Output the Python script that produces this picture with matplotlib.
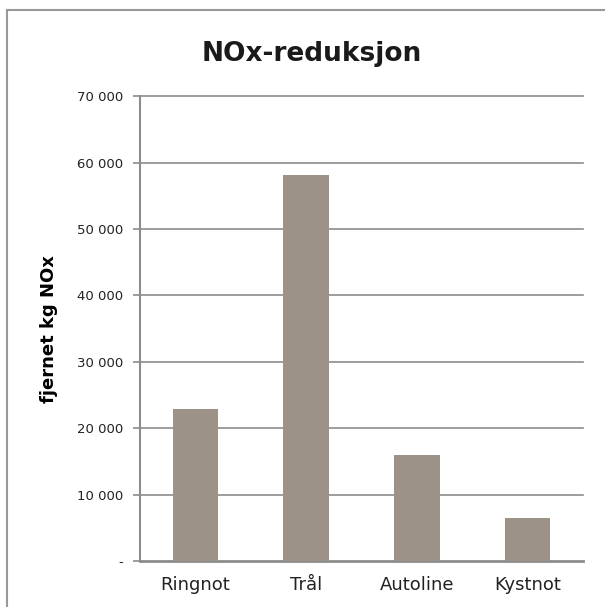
import numpy as np
import matplotlib.pyplot as plt
from matplotlib.lines import Line2D
from matplotlib.ticker import FuncFormatter

categories = ['Ringnot', 'Trål', 'Autoline', 'Kystnot']
nox_removed = [22900, 58200, 16000, 6400]
yticks = [0, 10000, 20000, 30000, 40000, 50000, 60000, 70000]

bar_color = '#9c9287'
line_color = '#8c8c8c'

fig = plt.figure(figsize=(6.05, 6.07), dpi=100)
ax = fig.add_axes([0.2314, 0.0758, 0.7322, 0.7657])

x = np.arange(len(categories))
ax.bar(x, nox_removed, width=0.41, color=bar_color, zorder=3)

ax.set_xlim(-0.5, len(categories) - 0.5)
ax.set_ylim(0, 70000)
ax.set_yticks(yticks)
ax.set_xticks(x)
ax.set_xticklabels(categories, fontsize=13, color='#222222')


def fmt(v, pos):
    if v == 0:
        return '-'
    return '{:,.0f}'.format(v).replace(',', ' ')


ax.yaxis.set_major_formatter(FuncFormatter(fmt))
ax.tick_params(axis='y', labelsize=9.5, labelcolor='#222222', color=line_color,
               length=5, width=1.2, pad=7)
ax.tick_params(axis='x', length=0, pad=11)

# horizontal gridlines, top one not clipped
for v in yticks[1:]:
    ax.axhline(v, color=line_color, lw=1.2, zorder=0, clip_on=False)

for s in ['top', 'right']:
    ax.spines[s].set_visible(False)
ax.spines['left'].set_color(line_color)
ax.spines['left'].set_linewidth(1.5)
ax.spines['bottom'].set_color(line_color)
ax.spines['bottom'].set_linewidth(2)

ax.set_ylabel('fjernet kg NOx', fontsize=13, fontweight='bold')
ax.yaxis.set_label_coords(-0.185, 0.5)

fig.text(0.5155, 0.911, 'NOx-reduksjon', ha='center', va='center',
         fontsize=19, fontweight='bold', color='#1a1a1a')

# outer frame (top and left edges visible)
fig.add_artist(Line2D([0.0116, 0.0116], [0, 0.984], color='#999999', lw=1.5,
                      transform=fig.transFigure))
fig.add_artist(Line2D([0.0116, 1], [0.984, 0.984], color='#999999', lw=1.5,
                      transform=fig.transFigure))

fig.savefig('out.png', dpi=100)
